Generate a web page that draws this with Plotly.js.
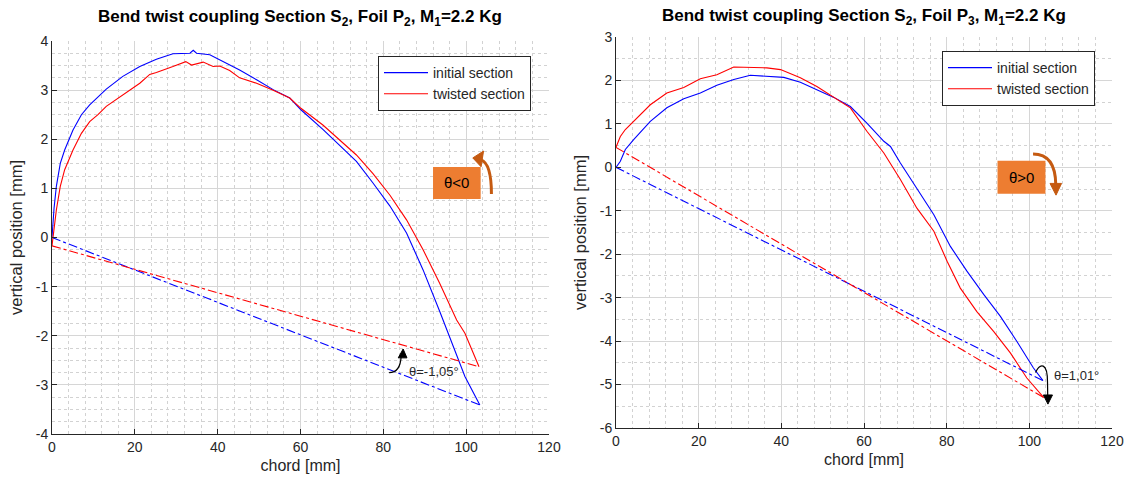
<!DOCTYPE html>
<html>
<head>
<meta charset="utf-8">
<script src="https://cdn.plot.ly/plotly-3.0.1.min.js"></script>
<style>html,body{margin:0;padding:0;background:#fff;}#chart{width:1126px;height:482px;}</style>
</head>
<body>
<div id="chart"></div>
<script>
// ---- Left panel: Foil P2 ----
const chordL_init = [0, 0.5, 1.05, 2.0, 3.06, 5.07, 7.1, 9.1, 13.1, 17.1, 21.2, 25.2, 29.2, 33.3, 34.1, 34.9, 38.1, 41.3, 45.3, 49.4, 53.4, 57.4, 60.1, 65.4, 69.5, 73.5, 77.5, 81.6, 85.6, 89.6, 93.6, 97.7, 99.7, 103.3];
const vertL_init  = [0, 0.6, 1.04, 1.51, 1.78, 2.19, 2.50, 2.70, 3.02, 3.28, 3.48, 3.63, 3.74, 3.75, 3.81, 3.75, 3.72, 3.58, 3.41, 3.21, 3.01, 2.84, 2.60, 2.20, 1.88, 1.55, 1.11, 0.64, 0.09, -0.66, -1.50, -2.39, -2.83, -3.41];
const chordL_twist = [0, 0.5, 1.05, 2.0, 3.06, 5.07, 7.1, 9.1, 11.1, 13.1, 17.1, 21.2, 23.6, 25.2, 29.2, 32.3, 33.7, 36.5, 38.9, 40.5, 42.9, 45.3, 49.4, 53.4, 57.4, 60.1, 65.4, 69.5, 73.5, 77.5, 81.6, 85.6, 89.6, 93.6, 97.7, 99.7, 103.1];
const vertL_twist  = [-0.17, 0.15, 0.56, 1.04, 1.38, 1.78, 2.12, 2.36, 2.50, 2.67, 2.90, 3.14, 3.32, 3.36, 3.48, 3.58, 3.51, 3.57, 3.48, 3.49, 3.40, 3.25, 3.14, 3.00, 2.84, 2.63, 2.29, 1.99, 1.68, 1.30, 0.86, 0.36, -0.25, -0.93, -1.68, -1.95, -2.63];
const chordL_lineInit = [0, 103.3];
const vertL_lineInit  = [0, -3.41];
const chordL_lineTwist = [0, 103.1];
const vertL_lineTwist  = [-0.17, -2.63];

// ---- Right panel: Foil P3 ----
const chordR_init = [0, 1.05, 2.26, 4.27, 8.3, 12.3, 16.4, 20.4, 24.4, 28.5, 32.5, 36.5, 40.6, 44.6, 48.6, 52.7, 56.7, 60.7, 64.8, 66.4, 68.8, 72.8, 76.9, 80.9, 84.9, 89.0, 93.0, 97.0, 101.0, 103.3];
const vertR_init  = [0, 0.14, 0.41, 0.64, 1.06, 1.37, 1.58, 1.71, 1.89, 2.02, 2.12, 2.10, 2.07, 1.96, 1.79, 1.61, 1.40, 1.02, 0.60, 0.48, 0.10, -0.48, -1.09, -1.82, -2.39, -2.93, -3.43, -4.01, -4.62, -4.91];
const chordR_twist = [0, 1.05, 2.26, 4.27, 8.3, 12.3, 16.4, 20.4, 24.4, 28.5, 32.5, 36.5, 39.8, 44.6, 48.6, 52.7, 56.7, 60.7, 64.8, 68.8, 72.8, 76.9, 80.1, 83.3, 87.3, 91.4, 95.4, 99.4, 103.5];
const vertR_twist  = [0.46, 0.71, 0.87, 1.06, 1.44, 1.71, 1.84, 2.04, 2.13, 2.31, 2.30, 2.29, 2.25, 2.06, 1.86, 1.61, 1.37, 0.83, 0.33, -0.28, -0.94, -1.47, -2.16, -2.78, -3.32, -3.78, -4.27, -4.85, -5.30];
const chordR_lineInit = [0, 103.3];
const vertR_lineInit  = [0, -4.91];
const chordR_lineTwist = [0, 103.5];
const vertR_lineTwist  = [0.46, -5.30];

const seriesNames = ['initial section', 'twisted section'];
const titleL = 'Bend twist coupling Section S<sub>2</sub>, Foil P<sub>2</sub>, M<sub>1</sub>=2.2 Kg';
const titleR = 'Bend twist coupling Section S<sub>2</sub>, Foil P<sub>3</sub>, M<sub>1</sub>=2.2 Kg';
const xTicks = [0, 20, 40, 60, 80, 100, 120];
const yTicksL = [-4, -3, -2, -1, 0, 1, 2, 3, 4];
const yTicksR = [-6, -5, -4, -3, -2, -1, 0, 1, 2, 3];

const BLUE = '#0000ff', RED = '#ff0000';
const FONT = 'Liberation Sans, Arial, sans-serif';
const TXT = '#262626';

function curve(x, y, color, name, xa, ya, leg, show) {
  return {x: x, y: y, type: 'scatter', mode: 'lines', name: name,
    line: {color: color, width: 1.1}, xaxis: xa, yaxis: ya, legend: leg, showlegend: show, hoverinfo: 'skip'};
}
function chordLine(x, y, color, xa, ya) {
  return {x: x, y: y, type: 'scatter', mode: 'lines', line: {color: color, width: 1.1, dash: 'dashdot'},
    xaxis: xa, yaxis: ya, showlegend: false, hoverinfo: 'skip'};
}

const data = [
  curve(chordL_init, vertL_init, BLUE, seriesNames[0], 'x', 'y', 'legend', true),
  curve(chordL_twist, vertL_twist, RED, seriesNames[1], 'x', 'y', 'legend', true),
  chordLine(chordL_lineInit, vertL_lineInit, BLUE, 'x', 'y'),
  chordLine(chordL_lineTwist, vertL_lineTwist, RED, 'x', 'y'),
  curve(chordR_init, vertR_init, BLUE, seriesNames[0], 'x2', 'y2', 'legend2', true),
  curve(chordR_twist, vertR_twist, RED, seriesNames[1], 'x2', 'y2', 'legend2', true),
  chordLine(chordR_lineInit, vertR_lineInit, BLUE, 'x2', 'y2'),
  chordLine(chordR_lineTwist, vertR_lineTwist, RED, 'x2', 'y2')
];

function xAxis(domain, anchor) {
  return {domain: domain, anchor: anchor, range: [0, 120], tickvals: xTicks, ticktext: xTicks.map(String),
    showline: true, linecolor: TXT, linewidth: 1, ticks: 'inside', ticklen: 5, tickcolor: TXT,
    showgrid: true, gridcolor: '#d6d6d6', gridwidth: 1, zeroline: false,
    minor: {dtick: 4, tick0: 0, showgrid: true, gridcolor: '#d2d2d2', griddash: 'dot', gridwidth: 1, ticks: ''},
    tickfont: {family: FONT, size: 14, color: TXT},
    title: {text: 'chord [mm]', font: {family: FONT, size: 16, color: TXT}, standoff: 6},
    automargin: false, fixedrange: true};
}
function yAxis(domain, anchor, range, ticks, minorStep) {
  return {domain: domain, anchor: anchor, range: range, tickvals: ticks, ticktext: ticks.map(String),
    showline: true, linecolor: TXT, linewidth: 1, ticks: 'inside', ticklen: 5, tickcolor: TXT,
    showgrid: true, gridcolor: '#d6d6d6', gridwidth: 1, zeroline: false,
    minor: {dtick: minorStep, tick0: 0, showgrid: true, gridcolor: '#d2d2d2', griddash: 'dot', gridwidth: 1, ticks: ''},
    tickfont: {family: FONT, size: 14, color: TXT},
    title: {text: 'vertical position [mm]', font: {family: FONT, size: 16.5, color: TXT}, standoff: 8},
    automargin: false, fixedrange: true};
}

const W = 1126, H = 482;
const px = v => v / W, py = v => 1 - v / H;

const ORANGE = '#ed7d31', BROWN = '#c55a11';
const shapes = [
  // left: theta<0 box + curved arrow
  {type: 'rect', xref: 'x', yref: 'y', x0: 92.0, x1: 103.5, y0: 0.784, y1: 1.435, fillcolor: ORANGE, line: {width: 0}},
  {type: 'path', xref: 'x', yref: 'y', path: 'M 106.1 0.886 Q 106.1 1.50 103.6 1.58', line: {color: BROWN, width: 3}},
  {type: 'path', xref: 'x', yref: 'y', path: 'M 101.6 1.62 L 104.2 1.76 L 103.6 1.44 Z', fillcolor: BROWN, line: {color: BROWN, width: 1}},
  // left: angle hook + head
  {type: 'path', xref: 'x', yref: 'y', path: 'M 81.4 -2.75 Q 84.1 -2.75 84.3 -2.42', line: {color: '#000', width: 1.2}},
  {type: 'path', xref: 'x', yref: 'y', path: 'M 84.78 -2.27 L 83.6 -2.45 L 85.7 -2.45 Z', fillcolor: '#000', line: {color: '#000', width: 1}},
  // right: theta>0 box + curved arrow
  {type: 'rect', xref: 'x2', yref: 'y2', x0: 92.3, x1: 103.9, y0: -0.608, y1: 0.152, fillcolor: ORANGE, line: {width: 0}},
  {type: 'path', xref: 'x2', yref: 'y2', path: 'M 100.9 0.306 Q 106.3 0.306 106.4 -0.40', line: {color: BROWN, width: 3}},
  {type: 'path', xref: 'x2', yref: 'y2', path: 'M 106.46 -0.64 L 105.0 -0.37 L 107.8 -0.37 Z', fillcolor: BROWN, line: {color: BROWN, width: 1}},
  // right: angle hook + head
  {type: 'path', xref: 'x2', yref: 'y2', path: 'M 101.5 -4.72 C 102.6 -4.50 104.4 -4.48 104.4 -4.95 L 104.45 -5.27', line: {color: '#000', width: 1.2}},
  {type: 'path', xref: 'x2', yref: 'y2', path: 'M 104.5 -5.45 L 103.4 -5.24 L 105.6 -5.24 Z', fillcolor: '#000', line: {color: '#000', width: 1}}
];

const annotations = [
  {xref: 'paper', yref: 'paper', x: px(300), y: py(18), text: '<b>' + titleL + '</b>', showarrow: false,
    xanchor: 'center', yanchor: 'middle', font: {family: FONT, size: 17, color: '#000'}},
  {xref: 'paper', yref: 'paper', x: px(864), y: py(17), text: '<b>' + titleR + '</b>', showarrow: false,
    xanchor: 'center', yanchor: 'middle', font: {family: FONT, size: 17, color: '#000'}},
  {xref: 'x', yref: 'y', x: 97.75, y: 1.11, text: 'θ<0', showarrow: false, font: {family: FONT, size: 15, color: '#000'}},
  {xref: 'x2', yref: 'y2', x: 98.1, y: -0.228, text: 'θ>0', showarrow: false, font: {family: FONT, size: 15, color: '#000'}},
  {xref: 'x', yref: 'y', x: 85.8, y: -2.73, text: 'θ=-1,05°', showarrow: false, xanchor: 'left', yanchor: 'middle', font: {family: FONT, size: 13, color: TXT}},
  {xref: 'x2', yref: 'y2', x: 105.5, y: -4.80, text: 'θ=1,01°', showarrow: false, xanchor: 'left', yanchor: 'middle', font: {family: FONT, size: 13, color: TXT}}
];

const legendBase = {xanchor: 'left', yanchor: 'top', bgcolor: '#fff', bordercolor: TXT, borderwidth: 1,
  font: {family: FONT, size: 14, color: TXT}, itemwidth: 44, tracegroupgap: 0};

const layout = {
  width: W, height: H, margin: {l: 0, r: 0, t: 0, b: 0},
  paper_bgcolor: '#fff', plot_bgcolor: '#fff',
  xaxis: xAxis([px(52), px(549)], 'y'),
  yaxis: yAxis([1 - 434 / H, 1 - 41 / H], 'x', [-4, 4], yTicksL, 0.25),
  xaxis2: xAxis([px(616), px(1112)], 'y2'),
  yaxis2: yAxis([1 - 428 / H, 1 - 37 / H], 'x2', [-6, 3], yTicksR, 0.5),
  legend: Object.assign({x: px(378), y: py(56)}, legendBase),
  legend2: Object.assign({x: px(942), y: py(51)}, legendBase),
  shapes: shapes, annotations: annotations, hovermode: false
};

Plotly.newPlot('chart', data, layout, {displayModeBar: false, staticPlot: true});
</script>
</body>
</html>
